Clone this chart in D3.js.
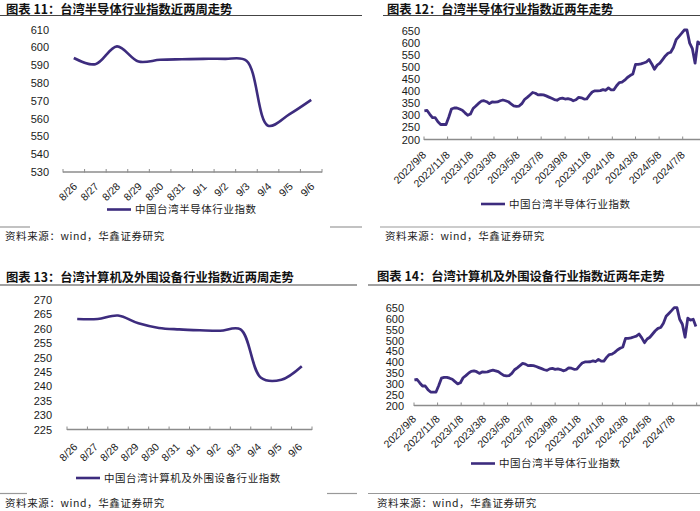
<!DOCTYPE html>
<html>
<head>
<meta charset="utf-8">
<script src="https://cdn.jsdelivr.net/npm/d3@7"></script>
<style>
  body { margin: 0; background: #fff; }
  svg { display: block; background: #fff; }
</style>
</head>
<body>
<svg id="chart" width="700" height="511"></svg>
<script>
// two-week panels (categories are trading days)
const weekDays = ['8/26', '8/27', '8/28', '8/29', '8/30', '8/31', '9/1', '9/2', '9/3', '9/4', '9/5', '9/6'];
const semiWeek = [594, 590.5, 600.5, 592, 593, 593.3, 593.5, 593.5, 592.5, 556, 562.5, 570.5];
const pcWeek = [263.4, 263.4, 264.6, 261.9, 260.3, 259.8, 259.5, 259.3, 259.8, 243, 242.3, 247];
const semiWeekTicks = [530, 540, 550, 560, 570, 580, 590, 600, 610];
const pcWeekTicks = [225, 230, 235, 240, 245, 250, 255, 260, 265, 270];

// two-year panels, one reading per week starting 2022/9/9
const yearStart = '2022/9/9';
const semiYear = [
  318, 320, 304, 290, 290, 273, 262, 262, 262, 292,
  326, 330, 330, 326, 321, 310, 300, 305, 328, 338,
  349, 358, 360, 356, 348, 355, 354, 355, 360, 363,
  360, 356, 347, 339, 337, 338, 348, 365, 374, 384,
  394, 391, 384, 385, 384, 380, 375, 370, 365, 362,
  369, 371, 367, 369, 366, 360, 364, 374, 372, 367,
  368, 383, 396, 401, 401, 402, 406, 403, 413, 405,
  405, 422, 435, 437, 445, 456, 464, 470, 510, 510,
  512, 516, 520, 530, 512, 490, 507, 515, 530, 545,
  556, 560, 580, 612, 625, 638, 652, 652, 598, 575,
  515, 603, 594, 598, 565
];
const yearTicks = [200, 250, 300, 350, 400, 450, 500, 550, 600, 650];
const yearTickLabels = ['2022/9/8', '2022/11/8', '2023/1/8', '2023/3/8', '2023/5/8', '2023/7/8',
  '2023/9/8', '2023/11/8', '2024/1/8', '2024/3/8', '2024/5/8', '2024/7/8'];
const yearAxisEnd = '2024/9/8';

const LINE = '#3d2c7e';
const AXIS = '#8c8c8c';
const CJK = "'Noto Sans CJK SC', sans-serif";
const LATIN = "'Liberation Sans', Arial, sans-serif";

const svg = d3.select('#chart');
const parseDay = d3.timeParse('%Y/%m/%d');

function rule (x1, x2, y, color) {
  svg.append('line')
    .attr('x1', x1).attr('x2', x2)
    .attr('y1', y).attr('y2', y)
    .attr('stroke', color)
    .attr('stroke-width', 1.2);
}

function header (x, y, text) {
  svg.append('text')
    .attr('x', x).attr('y', y)
    .attr('dy', '0.36em')
    .attr('font-family', CJK)
    .attr('font-weight', 700)
    .attr('font-size', 12.3)
    .attr('fill', '#111')
    .text(text);
}

function source (x, y) {
  svg.append('text')
    .attr('x', x).attr('y', y)
    .attr('dy', '0.36em')
    .attr('font-family', CJK)
    .attr('font-size', 10.5)
    .attr('letter-spacing', 0.6)
    .attr('fill', '#222')
    .text('资料来源：wind，华鑫证券研究');
}

function legend (x, y, text) {
  svg.append('line')
    .attr('x1', x).attr('x2', x + 24)
    .attr('y1', y).attr('y2', y)
    .attr('stroke', LINE)
    .attr('stroke-width', 2.6);
  svg.append('text')
    .attr('x', x + 28).attr('y', y)
    .attr('dy', '0.36em')
    .attr('font-family', CJK)
    .attr('font-size', 10.5)
    .attr('letter-spacing', 0.55)
    .attr('fill', '#222')
    .text(text);
}

function yAxis (g, y, ticks, labelX) {
  g.append('g')
    .attr('transform', `translate(${labelX},0)`)
    .call(d3.axisLeft(y).tickValues(ticks).tickSize(0).tickPadding(0))
    .call(a => a.select('.domain').remove())
    .call(a => a.selectAll('text')
      .attr('font-family', LATIN)
      .attr('font-size', 11)
      .attr('fill', '#1a1a1a'));
}

function xAxisLine (g, x0, x1, yPos, tickXs) {
  g.append('line')
    .attr('x1', x0).attr('x2', x1)
    .attr('y1', yPos).attr('y2', yPos)
    .attr('stroke', AXIS)
    .attr('stroke-width', 1.5);
  g.selectAll('.tick-mark')
    .data(tickXs)
    .join('line')
    .attr('class', 'tick-mark')
    .attr('x1', d => d).attr('x2', d => d)
    .attr('y1', yPos - 3).attr('y2', yPos + 0.5)
    .attr('stroke', AXIS)
    .attr('stroke-width', 1);
}

function slantLabels (g, items, xOf, yPos, dx, dy) {
  g.selectAll('.x-label')
    .data(items)
    .join('text')
    .attr('class', 'x-label')
    .attr('transform', d => `translate(${xOf(d) + dx},${yPos + dy}) rotate(-45)`)
    .attr('text-anchor', 'end')
    .attr('font-family', LATIN)
    .attr('font-size', 10.5)
    .attr('fill', '#1a1a1a')
    .text(d => d);
}

function weekPanel ({ x0, x1, yTop, yBottom, values, ticks, labelX, dx, dy }) {
  const g = svg.append('g');
  const x = d3.scaleBand().domain(weekDays).range([x0, x1]);
  const y = d3.scaleLinear().domain(d3.extent(ticks)).range([yBottom, yTop]);
  const cx = d => x(d) + x.bandwidth() / 2;

  yAxis(g, y, ticks, labelX);
  const edges = weekDays.map(d => x(d)).concat([x1]);
  xAxisLine(g, x0, x1, yBottom, edges);
  slantLabels(g, weekDays, cx, yBottom, dx, dy);

  const line = d3.line()
    .x((v, i) => cx(weekDays[i]))
    .y(v => y(v))
    .curve(d3.curveCatmullRom.alpha(0.5));
  g.append('path')
    .datum(values)
    .attr('d', line)
    .attr('fill', 'none')
    .attr('stroke', LINE)
    .attr('stroke-width', 2.6)
    .attr('stroke-linejoin', 'round');
}

function yearPanel ({ x0, yTop, yBottom, axisRight, labelX, dx, dy }) {
  const g = svg.append('g');
  const start = parseDay(yearTickLabels[0]);
  const end = parseDay(yearAxisEnd);
  const days = d3.timeDay.count(start, end);
  const x = d3.scaleTime().domain([start, end]).range([x0, x0 + days * 0.3867]);
  const y = d3.scaleLinear().domain(d3.extent(yearTicks)).range([yBottom, yTop]);
  const first = parseDay(yearStart);
  const points = semiYear.map((v, i) => ({ date: d3.timeDay.offset(first, i * 7), value: v }));

  yAxis(g, y, yearTicks, labelX);
  const tickXs = yearTickLabels.concat([yearAxisEnd]).map(s => x(parseDay(s)));
  xAxisLine(g, x0, axisRight, yBottom, tickXs);
  slantLabels(g, yearTickLabels, s => x(parseDay(s)), yBottom, dx, dy);

  const line = d3.line()
    .x(d => x(d.date))
    .y(d => y(d.value));
  g.append('path')
    .datum(points)
    .attr('d', line)
    .attr('fill', 'none')
    .attr('stroke', LINE)
    .attr('stroke-width', 2.8)
    .attr('stroke-linejoin', 'round');
}

// frame rules: title underlines and source separators
rule(0, 362, 15.5, '#444');
rule(383, 700, 15.5, '#444');
rule(0, 30, 227, '#999');
rule(330, 362, 227, '#999');
rule(380, 700, 227, '#999');
rule(0, 357, 285, '#444');
rule(368, 700, 285, '#444');
rule(0, 27, 493.5, '#999');
rule(327, 357, 493.5, '#999');
rule(368, 700, 493.5, '#999');

header(6, 9.5, '图表 11：台湾半导体行业指数近两周走势');
header(387, 9.5, '图表 12：台湾半导体行业指数近两年走势');
header(6, 278, '图表 13：台湾计算机及外围设备行业指数近两周走势');
header(377, 277, '图表 14：台湾计算机及外围设备行业指数近两年走势');

weekPanel({ x0: 63, x1: 322, yTop: 29.5, yBottom: 172, values: semiWeek, ticks: semiWeekTicks, labelX: 49, dx: 4, dy: 15 });
weekPanel({ x0: 67, x1: 312, yTop: 300, yBottom: 429.5, values: pcWeek, ticks: pcWeekTicks, labelX: 52, dx: 1, dy: 18 });
yearPanel({ x0: 424, yTop: 30.5, yBottom: 139.5, axisRight: 710, labelX: 420, dx: 3, dy: 16 });
yearPanel({ x0: 414, yTop: 308, yBottom: 405.5, axisRight: 700, labelX: 404, dx: 3, dy: 14 });

legend(107, 209.5, '中国台湾半导体行业指数');
legend(481, 204, '中国台湾半导体行业指数');
legend(76, 478, '中国台湾计算机及外围设备行业指数');
legend(471, 463.5, '中国台湾半导体行业指数');

source(5, 236);
source(385, 236);
source(5, 503.5);
source(377, 503.5);
</script>
</body>
</html>
